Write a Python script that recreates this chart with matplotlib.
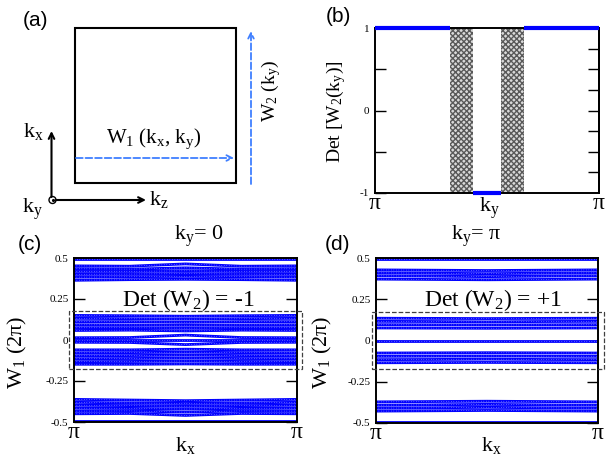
import numpy as np
import matplotlib
matplotlib.use('Agg')
import matplotlib.pyplot as plt
from matplotlib.patches import Rectangle, Circle

plt.rcParams['font.family'] = ['Liberation Serif', 'DejaVu Serif']
plt.rcParams['mathtext.fontset'] = 'custom'
plt.rcParams['mathtext.rm'] = 'Liberation Serif'
plt.rcParams['mathtext.it'] = 'Liberation Serif:italic'
plt.rcParams['hatch.linewidth'] = 1.0

PI = np.pi
W, H = 616, 455

# (b) Det[W2(ky)] along ky, with two undefined (hatched) windows
det_start = [-PI, -0.39, 1.05]
det_end = [-1.05, 0.39, PI]
det_val = [1, -1, 1]
gap_start = [-1.05, 0.39]
gap_end = [-0.39, 1.05]

# (c), (d) Wilson loop W1 eigenvalues (units of 2pi), read at these kx
kx_nodes = [-PI, -PI / 2, 0, PI / 2, PI]

bands_c = [
    [0.494, 0.494, 0.494, 0.494, 0.494],
    [0.452, 0.450, 0.464, 0.450, 0.452],
    [0.435, 0.432, 0.440, 0.432, 0.435],
    [0.418, 0.418, 0.422, 0.418, 0.418],
    [0.400, 0.402, 0.405, 0.402, 0.400],
    [0.383, 0.386, 0.388, 0.386, 0.383],
    [0.364, 0.368, 0.370, 0.368, 0.364],
    [0.150, 0.148, 0.145, 0.148, 0.150],
    [0.132, 0.130, 0.127, 0.130, 0.132],
    [0.112, 0.112, 0.108, 0.112, 0.112],
    [0.093, 0.092, 0.090, 0.092, 0.093],
    [0.075, 0.075, 0.072, 0.075, 0.075],
    [0.058, 0.060, 0.055, 0.060, 0.058],
    [0.014, 0.015, 0.030, 0.015, 0.014],
    [0.000, 0.000, 0.000, 0.000, 0.000],
    [-0.014, -0.015, -0.028, -0.015, -0.014],
    [-0.060, -0.060, -0.056, -0.060, -0.060],
    [-0.078, -0.077, -0.074, -0.077, -0.078],
    [-0.096, -0.095, -0.092, -0.095, -0.096],
    [-0.114, -0.113, -0.110, -0.113, -0.114],
    [-0.132, -0.131, -0.128, -0.131, -0.132],
    [-0.148, -0.148, -0.146, -0.148, -0.148],
    [-0.362, -0.366, -0.370, -0.366, -0.362],
    [-0.380, -0.384, -0.387, -0.384, -0.380],
    [-0.398, -0.400, -0.404, -0.400, -0.398],
    [-0.416, -0.417, -0.421, -0.417, -0.416],
    [-0.434, -0.432, -0.440, -0.432, -0.434],
    [-0.450, -0.448, -0.460, -0.448, -0.450],
    [-0.494, -0.494, -0.494, -0.494, -0.494],
]

bands_d = [
    [0.494, 0.494, 0.494, 0.494, 0.494],
    [0.428, 0.426, 0.424, 0.426, 0.428],
    [0.410, 0.408, 0.405, 0.408, 0.410],
    [0.392, 0.390, 0.387, 0.390, 0.392],
    [0.372, 0.370, 0.368, 0.370, 0.372],
    [0.135, 0.134, 0.133, 0.134, 0.135],
    [0.116, 0.115, 0.113, 0.115, 0.116],
    [0.096, 0.095, 0.094, 0.095, 0.096],
    [0.076, 0.075, 0.074, 0.075, 0.076],
    [0.000, 0.000, 0.000, 0.000, 0.000],
    [-0.076, -0.075, -0.074, -0.075, -0.076],
    [-0.096, -0.095, -0.094, -0.095, -0.096],
    [-0.116, -0.115, -0.113, -0.115, -0.116],
    [-0.135, -0.134, -0.133, -0.134, -0.135],
    [-0.372, -0.370, -0.368, -0.370, -0.372],
    [-0.392, -0.390, -0.387, -0.390, -0.392],
    [-0.410, -0.408, -0.405, -0.408, -0.410],
    [-0.428, -0.426, -0.424, -0.426, -0.428],
    [-0.494, -0.494, -0.494, -0.494, -0.494],
]

BLUE = '#0000ff'
ARROW_BLUE = '#3f7fff'


def px_axes(fig, left, top, right, bottom):
    # axes placed by pixel box of the 616x455 figure
    return fig.add_axes([left / W, 1 - bottom / H, (right - left) / W, (bottom - top) / H])


def ftext(fig, x, y, s, **kw):
    kw.setdefault('ha', 'center')
    kw.setdefault('va', 'center')
    fig.text(x / W, 1 - y / H, s, **kw)


def band_panel(ax, bands, box):
    for b in bands:
        ax.plot(kx_nodes, b, color=BLUE, lw=2.0, solid_capstyle='butt')
        ax.plot(kx_nodes, b, color='white', lw=0.6, ls=(0, (0.8, 2.2)), alpha=0.6)
    ax.set_xlim(-PI, PI)
    ax.set_ylim(-0.5, 0.5)
    ax.set_yticks([-0.5, -0.25, 0, 0.25, 0.5])
    ax.set_yticklabels(['-0.5', '-0.25', '0', '0.25', '0.5'], fontsize=8)
    ax.tick_params(axis='y', direction='in', length=8, width=1, right=True, pad=4)
    ax.set_xticks([-PI, PI])
    ax.set_xticklabels(['π', 'π'], fontsize=17)
    ax.tick_params(axis='x', length=0, pad=0)
    for s in ax.spines.values():
        s.set_linewidth(1.4)
    ax.add_patch(Rectangle((box[0], -0.175), box[1] - box[0], 0.35, fill=False,
                           ls='--', lw=0.9, ec='0.25', clip_on=False, zorder=5))


fig = plt.figure(figsize=(6.16, 4.55), dpi=100)

# ---- (a) schematic, drawn in pixel coordinates
ax_a = px_axes(fig, 0, 0, 300, 225)
ax_a.set_xlim(0, 300)
ax_a.set_ylim(225, 0)
ax_a.axis('off')
ax_a.add_patch(Rectangle((75, 28), 161, 155, fill=False, lw=1.5, ec='black'))
ax_a.annotate('', xy=(234, 158), xytext=(76, 158),
              arrowprops=dict(arrowstyle='->', color=ARROW_BLUE, lw=1.3, ls='--',
                              shrinkA=0, shrinkB=0))
ax_a.annotate('', xy=(251, 31), xytext=(251, 184),
              arrowprops=dict(arrowstyle='->', color=ARROW_BLUE, lw=1.3, ls='--',
                              shrinkA=0, shrinkB=0))
ax_a.annotate('', xy=(51.5, 131), xytext=(51.5, 197),
              arrowprops=dict(arrowstyle='->', color='black', lw=1.5, shrinkA=0, shrinkB=0))
ax_a.annotate('', xy=(146, 200), xytext=(56, 200),
              arrowprops=dict(arrowstyle='->', color='black', lw=1.5, shrinkA=0, shrinkB=0))
ax_a.add_patch(Circle((52.5, 200), 3.5, fill=False, lw=1.0, ec='black'))
ax_a.plot([52.5], [200], 'k.', ms=2.5)
ax_a.text(154, 139, r'W$_1$ (k$_\mathrm{x}$, k$_\mathrm{y}$)', fontsize=15, ha='center', va='center')
ax_a.text(271, 91, r'W$_2$ (k$_\mathrm{y}$)', fontsize=14, ha='center', va='center', rotation=90)
ax_a.text(33, 131, r'k$_\mathrm{x}$', fontsize=16, ha='center', va='center')
ax_a.text(33, 209, r'k$_\mathrm{y}$', fontsize=16, ha='center', va='center')
ax_a.text(159, 199, r'k$_\mathrm{z}$', fontsize=16, ha='center', va='center')

# ---- (b) Det[W2(ky)]
ax_b = px_axes(fig, 375, 28, 599, 193)
for a, b in zip(gap_start, gap_end):
    ax_b.axvspan(a, b, facecolor='0.85', edgecolor='0.35', hatch='xxxxxx', lw=0, zorder=1)
ax_b.hlines(det_val, det_start, det_end, color=BLUE, lw=3, zorder=4, clip_on=False)
ax_b.set_xlim(-PI, PI)
ax_b.set_ylim(-1, 1)
ax_b.set_yticks([-1, -0.5, 0, 0.5, 1])
ax_b.set_yticklabels(['-1', '', '0', '', '1'], fontsize=8)
ax_b.tick_params(axis='y', direction='in', length=8, width=1, pad=4)
ax_b.set_xticks([-PI, PI])
ax_b.set_xticklabels(['π', 'π'], fontsize=17)
ax_b.tick_params(axis='x', length=0, pad=0)
sec = ax_b.secondary_yaxis('right')
sec.set_yticks([-0.75, -0.5, -0.25, 0, 0.25, 0.5, 0.75])
sec.set_yticklabels([])
sec.tick_params(direction='in', length=8, width=1)
for s in list(ax_b.spines.values()) + [sec.spines['right']]:
    s.set_linewidth(1.4)

# ---- (c) ky = 0
ax_c = px_axes(fig, 74, 258, 297, 422)
band_panel(ax_c, bands_c, (-PI - 0.14, PI + 0.14))

# ---- (d) ky = pi
ax_d = px_axes(fig, 376, 258, 598, 423)
band_panel(ax_d, bands_d, (-PI - 0.11, PI + 0.17))

# ---- labels
sans = ['Liberation Sans', 'DejaVu Sans']
ftext(fig, 36, 20, '(a)', fontsize=15, family=sans)
ftext(fig, 338, 17, '(b)', fontsize=15, family=sans)
ftext(fig, 30, 244, '(c)', fontsize=15, family=sans)
ftext(fig, 337, 244, '(d)', fontsize=15, family=sans)

ftext(fig, 199, 236, r'k$_\mathrm{y}$= 0', fontsize=16)
ftext(fig, 476, 236, r'k$_\mathrm{y}$= π', fontsize=16)
ftext(fig, 188, 300, r'Det (W$_2$) = -1', fontsize=17)
ftext(fig, 493, 300, r'Det (W$_2$) = +1', fontsize=17)

ftext(fig, 336, 112, r'Det [W$_2$(k$_\mathrm{y}$)]', fontsize=14, rotation=90)
ftext(fig, 17, 352, r'W$_1$ (2π)', fontsize=16, rotation=90)
ftext(fig, 322, 352, r'W$_1$ (2π)', fontsize=16, rotation=90)

ftext(fig, 490, 208, r'k$_\mathrm{y}$', fontsize=16)
ftext(fig, 185, 445, r'k$_\mathrm{x}$', fontsize=16)
ftext(fig, 491, 445, r'k$_\mathrm{x}$', fontsize=16)

fig.savefig('out.png', dpi=100)
